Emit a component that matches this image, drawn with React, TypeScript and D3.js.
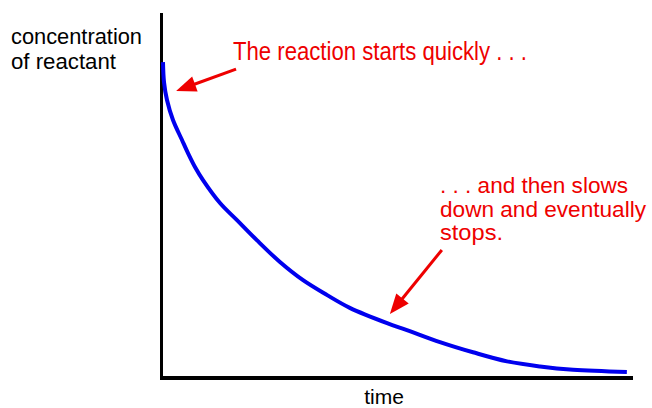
import React from "react";
import * as d3 from "d3";

// Decay curve (time units 0-100, concentration units 0-100)
const times = [0.42, 0.64, 1.27, 2.54, 4.45, 5.72, 7.2, 8.9, 12.5, 16.1, 20.3, 25.2, 30.1, 35.2, 40.0, 47.9, 52.1, 59.1, 66.1, 73.3, 80.3, 87.3, 98.7];
const concentrations = [86.5, 81.0, 76.1, 70.6, 65.1, 61.5, 57.7, 54.1, 47.8, 43.1, 37.6, 31.6, 26.6, 22.5, 19.0, 14.8, 12.9, 9.6, 6.8, 4.3, 2.9, 2.0, 1.4];

const yLabelLines = ["concentration", "of reactant"];
const xLabel = "time";
const note1Lines = ["The reaction starts quickly . . ."];
const note2Lines = [". . . and then slows", "down and eventually", "stops."];
// annotation arrows in data units: [fromT, fromC, toT, toC]
const arrows = [
  [15.9, 84.6, 3.2, 78.6],
  [59.5, 34.9, 48.5, 17.3],
];

const W = 652;
const H = 408;

export default function App() {
  const x = d3.scaleLinear().domain([0, 100]).range([161, 633]);
  const y = d3.scaleLinear().domain([0, 100]).range([377, 13]);
  const pts = times.map((t, i) => [t, concentrations[i]] as [number, number]);
  const line = d3
    .line<[number, number]>()
    .x((d) => x(d[0]))
    .y((d) => y(d[1]))
    .curve(d3.curveCatmullRom.alpha(0.5));

  const arrowEls = arrows.map((a, i) => {
    const x1 = x(a[0]), y1 = y(a[1]), x2 = x(a[2]), y2 = y(a[3]);
    const dx = x2 - x1, dy = y2 - y1;
    const len = Math.hypot(dx, dy);
    const ux = dx / len, uy = dy / len;
    const hl = 20, hw = 8;
    const bx = x2 - ux * hl, by = y2 - uy * hl;
    const head = `M${x2},${y2}L${bx - uy * hw},${by + ux * hw}L${bx + uy * hw},${by - ux * hw}Z`;
    return (
      <g key={i}>
        <line x1={x1} y1={y1} x2={bx + ux * 2} y2={by + uy * 2} stroke="#ee0000" strokeWidth={3} />
        <path d={head} fill="#ee0000" />
      </g>
    );
  });

  const font = "Arial, 'Liberation Sans', Helvetica, sans-serif";
  const n2Len = [188, 206, 63];

  return (
    <svg
      width={W}
      height={H}
      style={{ position: "absolute", left: 0, top: 0, background: "#fff" }}
    >
      <rect width={W} height={H} fill="#fff" />
      {/* axes */}
      <line x1={161.5} y1={13} x2={161.5} y2={380} stroke="#000" strokeWidth={3} />
      <line x1={160} y1={378} x2={633} y2={378} stroke="#000" strokeWidth={4} />
      {/* curve */}
      <path d={line(pts) || ""} fill="none" stroke="#0000ee" strokeWidth={4} />
      {/* y label */}
      <g fontFamily={font} fontSize={22} fill="#000">
        {yLabelLines.map((s, i) => (
          <text key={i} x={11} y={44 + i * 25} textLength={i === 0 ? 131 : 105} lengthAdjust="spacingAndGlyphs">
            {s}
          </text>
        ))}
        <text x={384} y={404} textAnchor="middle" fontSize={21}>
          {xLabel}
        </text>
      </g>
      {/* annotations */}
      <g fontFamily={font} fill="#ee0000">
        {note1Lines.map((s, i) => (
          <text key={i} x={233} y={60} fontSize={25} textLength={294} lengthAdjust="spacingAndGlyphs">
            {s}
          </text>
        ))}
        {note2Lines.map((s, i) => (
          <text key={i} x={440} y={193 + i * 23.5} fontSize={22} textLength={n2Len[i]} lengthAdjust="spacingAndGlyphs">
            {s}
          </text>
        ))}
      </g>
      {arrowEls}
    </svg>
  );
}
